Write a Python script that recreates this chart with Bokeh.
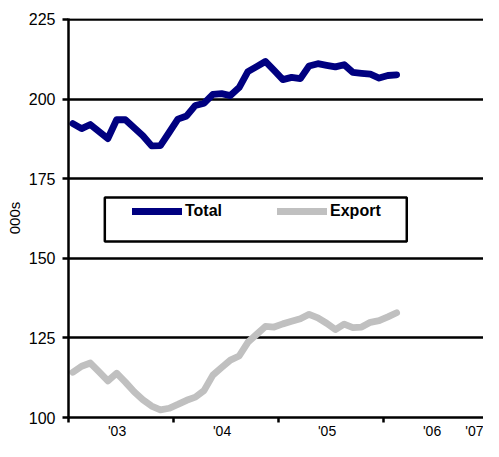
from bokeh.plotting import figure
from bokeh.models import Range1d, FixedTicker, Legend, LegendItem, BoxAnnotation
from bokeh.embed import file_html
from bokeh.resources import INLINE

# ---- data (monthly, Jan 2003 - Feb 2006), thousands ----
months = [f"{y}-{m:02d}" for y in (2003, 2004, 2005, 2006) for m in range(1, 13)][:38]
total = [192.3, 190.7, 192.0, 189.8, 187.6, 193.5, 193.5, 191.0, 188.5, 185.3,
         185.4, 189.5, 193.7, 194.7, 198.0, 198.7, 201.5, 201.7, 201.1, 203.6,
         208.6, 210.2, 211.8, 209.0, 206.1, 206.8, 206.4, 210.4, 211.1, 210.6,
         210.1, 210.8, 208.4, 208.1, 207.8, 206.6, 207.4, 207.6]
export = [114.2, 116.1, 117.1, 114.3, 111.5, 113.9, 111.1, 108.1, 105.6, 103.6,
          102.4, 102.9, 104.1, 105.4, 106.4, 108.5, 113.3, 115.7, 118.0, 119.3,
          123.6, 126.1, 128.6, 128.4, 129.4, 130.2, 131.0, 132.4, 131.3, 129.6,
          127.6, 129.3, 128.2, 128.4, 129.9, 130.4, 131.6, 132.9]
year_labels = ["'03", "'04", "'05", "'06", "'07"]
y_ticks = [100, 125, 150, 175, 200, 225]
series_names = ["Total", "Export"]

FONT = "Liberation Sans"
X_END = 47.43

x = [i + 0.5 for i in range(len(months))]
year_starts = [12 * i for i in range(len(year_labels))]
label_pos = [min(12 * i + 5.55, X_END - 0.1) for i in range(len(year_labels))]

p = figure(width=483, height=441, output_backend="svg", toolbar_location=None,
           x_range=Range1d(0, X_END), y_range=Range1d(100, 225.3),
           min_border_left=68, min_border_right=0, min_border_top=18,
           min_border_bottom=15)
p.outline_line_color = None
p.background_fill_color = "white"
p.border_fill_color = "white"

r_export = p.line(x, export, line_color="#C0C0C0", line_width=6.8,
                  line_cap="round", line_join="round")
r_total = p.line(x, total, line_color="#000080", line_width=6.8,
                 line_cap="round", line_join="round")

# grid
p.xgrid.visible = False
p.ygrid.ticker = FixedTicker(ticks=y_ticks)
p.ygrid.grid_line_color = "black"
p.ygrid.grid_line_width = 2.5

# x axis
xa = p.xaxis[0]
xa.ticker = FixedTicker(ticks=label_pos, minor_ticks=year_starts)
xa.major_label_overrides = {pos: lab for pos, lab in zip(label_pos, year_labels)}
xa.major_tick_out = 0
xa.major_tick_in = 0
xa.minor_tick_out = 5
xa.minor_tick_in = 0
xa.minor_tick_line_width = 2.5
xa.minor_tick_line_color = "black"
xa.axis_line_width = 2.5
xa.axis_line_color = "black"
xa.major_label_text_font = FONT
xa.major_label_text_font_size = "14px"
xa.major_label_text_color = "black"
xa.major_label_standoff = 0

# y axis
ya = p.yaxis[0]
ya.ticker = FixedTicker(ticks=y_ticks, minor_ticks=[])
ya.major_tick_out = 6
ya.major_tick_in = 0
ya.minor_tick_out = 0
ya.minor_tick_in = 0
ya.major_tick_line_width = 2.5
ya.major_tick_line_color = "black"
ya.axis_line_width = 2.5
ya.axis_line_color = "black"
ya.major_label_text_font = FONT
ya.major_label_text_font_size = "16px"
ya.major_label_text_color = "black"
ya.major_label_standoff = 7
ya.axis_label = "000s"
ya.axis_label_text_font = FONT
ya.axis_label_text_font_size = "15px"
ya.axis_label_text_font_style = "normal"
ya.axis_label_text_color = "black"
ya.axis_label_standoff = 3

# legend frame
box = BoxAnnotation(left=4.15, right=38.66, bottom=155.3, top=169.1,
                    fill_color="white", fill_alpha=1.0,
                    line_color="black", line_alpha=1.0, line_width=2.5)
p.add_layout(box)

legend = Legend(items=[LegendItem(label=series_names[0], renderers=[r_total]),
                       LegendItem(label=series_names[1], renderers=[r_export])],
                orientation="horizontal", location=(64, 197),
                padding=0, margin=0, border_line_alpha=0,
                background_fill_alpha=0, glyph_width=50, glyph_height=16,
                label_height=16, label_standoff=3, spacing=55,
                label_text_font=FONT, label_text_font_style="bold",
                label_text_font_size="16px", label_text_color="black")
p.add_layout(legend, "center")

open("out.html", "w").write(file_html(p, INLINE))
